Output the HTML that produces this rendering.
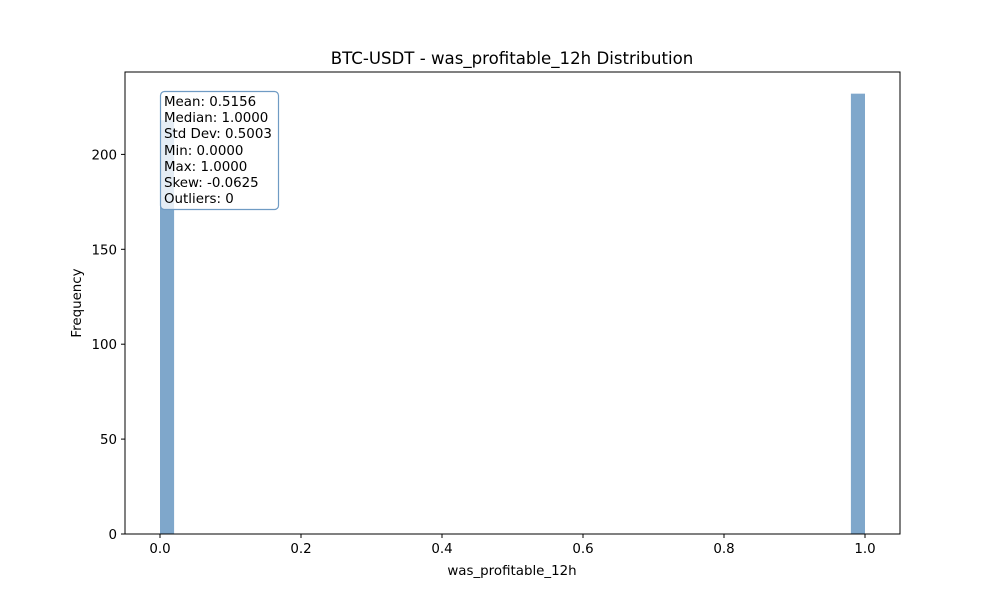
<!DOCTYPE html>
<html><head><meta charset="utf-8"><style>
body{margin:0;background:#fff}
svg text{font-family:"DejaVu Sans","Liberation Sans",sans-serif;fill:#000}
</style></head><body>
<svg id="chart" width="1000" height="600" viewBox="0 0 1000 600">
<rect width="1000" height="600" fill="#fff"/>
<text x="512" y="64" font-size="16.6" text-anchor="middle">BTC-USDT - was_profitable_12h Distribution</text>
<g id="bars"></g>
<rect x="125" y="72" width="775" height="462" fill="none" stroke="#000" stroke-width="1"/>
<g id="xticks"></g>
<g id="yticks"></g>
<text x="512" y="575" font-size="13.4" text-anchor="middle">was_profitable_12h</text>
<text transform="translate(81,303) rotate(-90)" font-size="13.4" text-anchor="middle">Frequency</text>
<g>
<rect x="160.5" y="91.5" width="118" height="118" rx="4" fill="#fff" fill-opacity="0.8" stroke="#6f9bc4" stroke-width="1.2"/>
<text font-size="13.4">
<tspan x="164" y="106">Mean: 0.5156</tspan>
<tspan x="164" y="122">Median: 1.0000</tspan>
<tspan x="164" y="138">Std Dev: 0.5003</tspan>
<tspan x="164" y="155">Min: 0.0000</tspan>
<tspan x="164" y="171">Max: 1.0000</tspan>
<tspan x="164" y="187">Skew: -0.0625</tspan>
<tspan x="164" y="203">Outliers: 0</tspan>
</text>
</g>
</svg>
<script>
const binStarts=[0.00,0.98];
const binCounts=[218,232];
const binWidth=0.02;
const xTicks=[0.0,0.2,0.4,0.6,0.8,1.0];
const yTicks=[0,50,100,150,200];
const NS="http://www.w3.org/2000/svg";
const xs=v=>160+v*705;
const ys=v=>534-v*1.898;
const bars=document.getElementById('bars');
binStarts.forEach((s,i)=>{
  const r=document.createElementNS(NS,'rect');
  r.setAttribute('x',xs(s));r.setAttribute('width',xs(s+binWidth)-xs(s));
  r.setAttribute('y',ys(binCounts[i]));r.setAttribute('height',ys(0)-ys(binCounts[i]));
  r.setAttribute('fill','#7fa7cb');
  
  
  bars.appendChild(r);
});
const xg=document.getElementById('xticks');
xTicks.forEach(t=>{
  const l=document.createElementNS(NS,'line');
  l.setAttribute('x1',xs(t));l.setAttribute('x2',xs(t));l.setAttribute('y1',534);l.setAttribute('y2',538);l.setAttribute('stroke','#000');
  
  
  xg.appendChild(l);
  const tx=document.createElementNS(NS,'text');
  tx.setAttribute('x',xs(t));tx.setAttribute('y',553);tx.setAttribute('font-size','13.4');tx.setAttribute('text-anchor','middle');
  tx.textContent=t.toFixed(1);
  
  
  xg.appendChild(tx);
});
const yg=document.getElementById('yticks');
yTicks.forEach(t=>{
  const l=document.createElementNS(NS,'line');
  l.setAttribute('x1',121);l.setAttribute('x2',125);l.setAttribute('y1',ys(t));l.setAttribute('y2',ys(t));l.setAttribute('stroke','#000');
  
  
  yg.appendChild(l);
  const tx=document.createElementNS(NS,'text');
  tx.setAttribute('x',117);tx.setAttribute('y',ys(t)+5);tx.setAttribute('font-size','13.4');tx.setAttribute('text-anchor','end');
  tx.textContent=t;
  
  
  yg.appendChild(tx);
});
</script>
</body></html>
